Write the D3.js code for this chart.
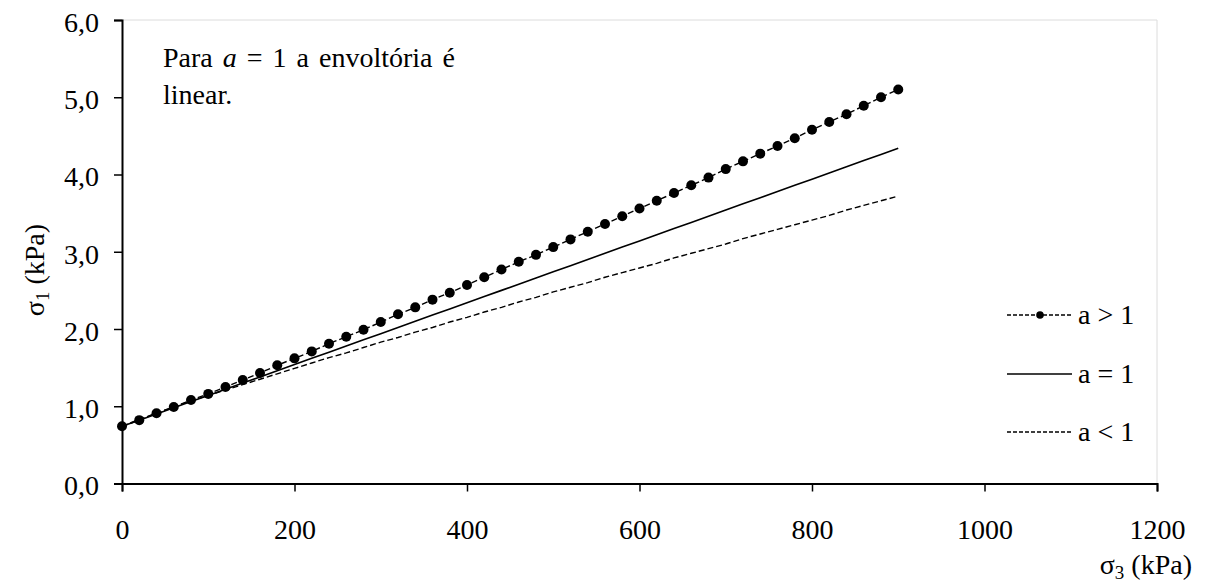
<!DOCTYPE html>
<html><head><meta charset="utf-8">
<script src="https://cdn.jsdelivr.net/npm/d3@7"></script>
<style>body{margin:0;background:#fff}svg{display:block}text{font-family:"Liberation Serif","Times New Roman","DejaVu Serif",serif;fill:#000}</style>
</head><body><svg id="c" width="1205" height="582"></svg>
<script>
const xValues = [0,20,40,60,80,100,120,140,160,180,200,220,240,260,280,300,320,340,360,380,400,420,440,460,480,500,520,540,560,580,600,620,640,660,680,700,720,740,760,780,800,820,840,860,880,900];
const seriesGt1 = [0.74,0.82,0.91,0.99,1.08,1.16,1.25,1.34,1.43,1.53,1.62,1.71,1.81,1.90,1.99,2.09,2.19,2.28,2.38,2.47,2.57,2.67,2.77,2.87,2.96,3.06,3.16,3.26,3.36,3.46,3.56,3.66,3.76,3.86,3.96,4.07,4.17,4.27,4.37,4.47,4.58,4.68,4.78,4.89,5.00,5.10];
const seriesEq1 = [0.74,0.82,0.90,0.98,1.06,1.14,1.22,1.30,1.38,1.46,1.54,1.62,1.70,1.78,1.86,1.94,2.02,2.10,2.18,2.26,2.34,2.42,2.50,2.58,2.66,2.74,2.82,2.90,2.98,3.06,3.14,3.22,3.30,3.38,3.46,3.54,3.62,3.70,3.78,3.86,3.94,4.02,4.10,4.18,4.26,4.34];
const seriesLt1 = [0.74,0.83,0.91,0.99,1.07,1.14,1.21,1.28,1.35,1.42,1.49,1.56,1.63,1.69,1.76,1.83,1.89,1.96,2.02,2.09,2.15,2.22,2.28,2.35,2.41,2.48,2.54,2.60,2.67,2.73,2.79,2.85,2.92,2.98,3.04,3.10,3.17,3.23,3.29,3.35,3.41,3.47,3.54,3.60,3.66,3.72];
const xTicks = [0,200,400,600,800,1000,1200];
const yTicks = [0,1,2,3,4,5,6];
const legendLabels = ["a > 1","a = 1","a < 1"];

const svg = d3.select("#c");
const L=122,R=1157,T=20,B=483.5;
const x = d3.scaleLinear().domain([0,1200]).range([L,R]);
const y = d3.scaleLinear().domain([0,6]).range([B,T]);
const FS = "28px";

// plot-area border (light)
svg.append("path").attr("d",`M${L},${T}H${R}V${B}`).attr("fill","none").attr("stroke","#dcdcdc").attr("stroke-width",1);

const fmt = d => d3.format(".1f")(d).replace(".",",");
const xAxis = svg.append("g").attr("transform",`translate(0,${B})`)
  .call(d3.axisBottom(x).tickValues(xTicks).tickSize(8).tickPadding(28).tickFormat(d3.format("d")));
const yAxis = svg.append("g").attr("transform",`translate(${L},0)`)
  .call(d3.axisLeft(y).tickValues(yTicks).tickSize(8).tickPadding(15).tickFormat(fmt));
[xAxis,yAxis].forEach(g=>{
  g.select(".domain").attr("stroke","#000").attr("stroke-width",2);
  g.selectAll(".tick line").attr("stroke","#000").attr("stroke-width",1.5);
  g.selectAll("text").style("font-size",FS).style("font-family","'Liberation Serif','Times New Roman',serif");
});
xAxis.selectAll("text").attr("dy","0.71em");
yAxis.selectAll("text").attr("dy","0.41em");

const line = d3.line().x((d,i)=>x(xValues[i])).y(d=>y(d));
svg.append("path").datum(seriesLt1).attr("d",line).attr("fill","none").attr("stroke","#000").attr("stroke-width",1.4).attr("stroke-dasharray","6,3");
svg.append("path").datum(seriesEq1).attr("d",line).attr("fill","none").attr("stroke","#000").attr("stroke-width",1.6);
svg.append("path").datum(seriesGt1).attr("d",line).attr("fill","none").attr("stroke","#000").attr("stroke-width",1.4).attr("stroke-dasharray","6,3");
svg.append("g").selectAll("circle").data(seriesGt1).join("circle")
  .attr("cx",(d,i)=>x(xValues[i])).attr("cy",d=>y(d)).attr("r",5).attr("fill","#000");

// legend
const lg = svg.append("g");
const rows=[315,374,432];
const dashes=["4,2",null,"4,2"];
legendLabels.forEach((t,i)=>{
  const ln = lg.append("line").attr("x1",1007).attr("x2",1072).attr("y1",rows[i]).attr("y2",rows[i]).attr("stroke","#000").attr("stroke-width",1.4);
  if(dashes[i]) ln.attr("stroke-dasharray",dashes[i]);
  if(i===0) lg.append("circle").attr("cx",1040).attr("cy",rows[i]).attr("r",3.8).attr("fill","#000");
  lg.append("text").attr("x",1078).attr("y",rows[i]+9).style("font-size",FS).text(t);
});

// annotation
const ann = svg.append("text").attr("x",163).attr("y",67).style("font-size",FS).style("word-spacing","3px");
ann.append("tspan").text("Para ");
ann.append("tspan").style("font-style","italic").text("a");
ann.append("tspan").text(" = 1 a envoltória é");
svg.append("text").attr("x",163).attr("y",104).style("font-size",FS).text("linear.");

// axis titles
const xt = svg.append("text").attr("x",1192).attr("y",574).attr("text-anchor","end").style("font-size",FS);
xt.append("tspan").text("σ");
xt.append("tspan").attr("dy",5).style("font-size","19px").text("3");
xt.append("tspan").attr("dy",-5).text(" (kPa)");
const yt = svg.append("text").attr("transform","translate(44,270) rotate(-90)").attr("text-anchor","middle").style("font-size",FS);
yt.append("tspan").text("σ");
yt.append("tspan").attr("dy",5).style("font-size","19px").text("1");
yt.append("tspan").attr("dy",-5).text(" (kPa)");
</script></body></html>
